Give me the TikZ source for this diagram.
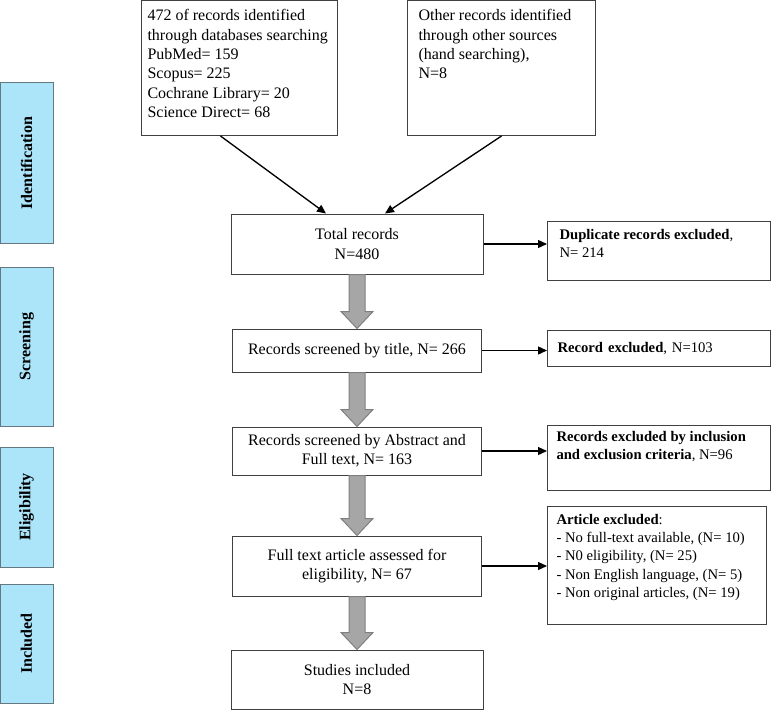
\documentclass[tikz,border=0pt]{standalone}
\usepackage{fontspec}
\setmainfont{Liberation Serif}
\usetikzlibrary{calc,arrows.meta}

\newlength{\px}\setlength{\px}{0.75pt}
\newcommand{\toptext}[3]{\parbox[t][#1\px][t]{#2\px}{\raggedright #3}}

\definecolor{stagefill}{RGB}{172,229,250}
\definecolor{stageline}{RGB}{100,120,130}
\definecolor{flowfill}{RGB}{166,166,166}
\definecolor{flowline}{RGB}{127,127,127}
\definecolor{boxline}{RGB}{64,64,64}

\newcommand{\flowdown}[2]{%
  \draw[blockarrow] ($(#1.south)+(-8,0)$) -- ($(#2.north)+(-8,17)$) -- ($(#2.north)+(-16,17)$)
    -- (#2.north) -- ($(#2.north)+(16,17)$) -- ($(#2.north)+(8,17)$) -- ($(#1.south)+(8,0)$) -- cycle;}

\tikzset{
  every node/.style={font=\fontsize{12}{14.5}\selectfont},
  stagebar/.style={draw=stageline, line width=0.75pt, fill=stagefill, rotate=90,
    font=\fontsize{12}{14.5}\selectfont\bfseries, minimum height=53\px, inner sep=0pt},
  srcbox/.style={draw=boxline, line width=0.75pt, anchor=north west, inner ysep=9\px},
  mainbox/.style={draw=boxline, line width=0.75pt, align=center, inner sep=2pt},
  sidebox/.style={draw=boxline, line width=0.75pt, anchor=north west, align=left,
    font=\fontsize{11}{13.6}\selectfont},
  thinarrow/.style={line width=1pt, -{Triangle[length=6.75pt,width=6pt]}},
  blockarrow/.style={fill=flowfill, draw=flowline, line width=0.75pt}
}

\begin{document}
\begin{tikzpicture}[x=0.75pt,y=0.75pt]
\useasboundingbox (0,0) rectangle (771,-710);

% stages
\node[stagebar, minimum width=160\px] (ident) at (26.5,-163) {Identification};
\node[stagebar, minimum width=159\px] (screen) at (26.5,-346.5) {Screening};
\node[stagebar, minimum width=120\px] (elig) at (26.5,-507) {Eligibility};
\node[stagebar, minimum width=119\px] (incl) at (26.5,-643.5) {Included};

% sources
\node[srcbox, inner xsep=6\px] (dbs) at (141,0) {\toptext{117}{184}{472 of records identified\\
  through databases searching\\ PubMed= 159\\ Scopus= 225\\ Cochrane Library= 20\\ Science Direct= 68}};
\node[srcbox, inner xsep=11\px] (other) at (407,0) {\toptext{117}{166}{Other records identified\\
  through other sources\\ (hand searching),\\ N=8}};

% main flow
\node[mainbox, minimum width=252\px, minimum height=60\px] (total) at (357,-244) {Total records\\ N=480};
\node[mainbox, minimum width=249\px, minimum height=43\px] (title) at (357,-350.5) {Records screened by title, N= 266};
\node[mainbox, minimum width=249\px, minimum height=48\px] (abstr) at (357,-451) {Records screened by Abstract and\\ Full text, N= 163};
\node[mainbox, minimum width=249\px, minimum height=60\px] (fulltext) at (357,-566) {Full text article assessed for\\ eligibility, N= 67};
\node[mainbox, minimum width=252\px, minimum height=59\px] (studies) at (357,-679.5) {Studies included\\ N=8};

% exclusions
\node[sidebox, inner xsep=12\px, inner ysep=8\px] (dup) at (547,-221)
  {\toptext{43}{199}{\textbf{Duplicate records excluded},\\ N= 214}};
\node[sidebox, inner xsep=10\px, text width=203\px, minimum height=36\px] (recexcl) at (547,-330)
  {\textbf{Record excluded}, N=103};
\node[sidebox, inner xsep=9\px, inner ysep=6\px] (inclexcl) at (547,-425)
  {\toptext{53}{205}{\textbf{Records excluded by inclusion}\\ \textbf{and exclusion criteria}, N=96}};
\node[sidebox, inner xsep=9\px, inner ysep=8\px] (artexcl) at (547,-506)
  {\toptext{102}{201}{\textbf{Article excluded}:\\ - No full-text available, (N= 10)\\ - N0 eligibility, (N= 25)\\
  - Non English language, (N= 5)\\ - Non original articles, (N= 19)}};

% connectors
\draw[thinarrow] ($(dbs.south)+(-19,0)$) -- ($(total.north)+(-31,0)$);
\draw[thinarrow] (other.south) -- ($(total.north)+(28,0)$);
\draw[thinarrow] (total.east) -- (total.east -| dup.west);
\draw[thinarrow] (title.east) -- (title.east -| recexcl.west);
\draw[thinarrow] (abstr.east) -- (abstr.east -| inclexcl.west);
\draw[thinarrow] (fulltext.east) -- (fulltext.east -| artexcl.west);

\flowdown{total}{title}
\flowdown{title}{abstr}
\flowdown{abstr}{fulltext}
\flowdown{fulltext}{studies}
\end{tikzpicture}
\end{document}
